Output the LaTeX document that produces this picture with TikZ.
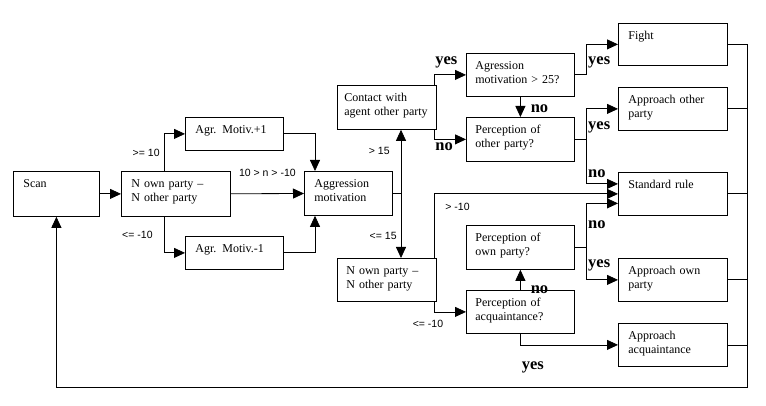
\documentclass[tikz,border=0pt]{standalone}
\usepackage{fontspec}
\setmainfont{Liberation Serif}
\newfontfamily\lblfont{Liberation Sans}
\usetikzlibrary{arrows.meta, positioning}

\begin{document}
\begin{tikzpicture}[x=1pt, y=-1pt, >={Triangle[length=11pt,width=10pt]}, line width=0.8pt,
  box/.style={draw, anchor=north west, inner xsep=10pt, inner ysep=0pt, text height=16pt,
    text depth=27pt, text width=89pt, align=left, font=\fontsize{12}{14}\selectfont},
  midbox/.style={box, inner xsep=9pt, text width=90pt},
  cond/.style={font=\lblfont\fontsize{10.5}{12}\selectfont, inner sep=1pt},
  answer/.style={font=\bfseries\fontsize{16.5}{18}\selectfont, inner sep=1pt}]
  \useasboundingbox (0,0) rectangle (766,406);
  \node[box, text width=66pt, text depth=29pt] (scan) at (13,171) {Scan};
  \node[box, text depth=29pt] (ownL) at (121,171) {N own party –\\N other party};
  \node[box, text width=78pt, text depth=17pt] (motup) at (185,117) {Agr. Motiv.+1};
  \node[box, text width=78pt, text depth=17pt] (motdown) at (185,236) {Agr. Motiv.-1};
  \node[box, text width=68pt, text depth=28pt] (aggr) at (304,171) {Aggression\\motivation};
  \node[box, inner xsep=7pt, text width=85pt, text depth=28pt] (contact) at (337,85) {Contact with\\\mbox{agent other party}};
  \node[box, inner xsep=9pt, text width=81pt] (ownR) at (337,258) {N own party –\\N other party};
  \node[midbox] (aggr25) at (466,53) {Agression\\motivation > 25?};
  \node[midbox, text depth=28pt] (percother) at (466,117) {Perception of\\other party?};
  \node[midbox, text depth=28pt] (percown) at (466,225) {Perception of\\own party?};
  \node[midbox] (percacq) at (466,290) {Perception of\\acquaintance?};
  \node[box, text depth=26pt] (fight) at (618,23) {Fight};
  \node[box] (appother) at (618,87) {Approach other\\party};
  \node[box] (standard) at (618,172) {Standard rule};
  \node[box] (appown) at (618,258) {Approach own\\party};
  \node[box] (appacq) at (618,323) {Approach\\acquaintance};

  \draw[->] (scan) -- (ownL);
  \draw[->] ([xshift=43pt]ownL.north west) |- node[cond, pos=0.25, left=3pt] {>= 10} (motup);
  \draw[->] ([xshift=43pt]ownL.south west) |- node[cond, pos=0.25, left=10pt] {<= -10} (motdown);
  \draw[->] (ownL) -- node[cond, above=16pt] {10 > n > -10} (aggr);
  \draw[->] (motup) -| ([xshift=11pt]aggr.north west);
  \draw[->] (motdown) -| ([xshift=11pt]aggr.south west);

  \coordinate (up) at ([xshift=64pt]contact.south west);
  \draw (aggr) -- (aggr -| up);
  \draw[->] (aggr -| up) -- node[cond, pos=0.66, left=10pt] {> 15} (up);
  \draw[->] (aggr -| up) -- node[cond, pos=0.66, left=3pt] {<= 15} (up |- ownR.north);

  \draw[->] ([xshift=97pt]contact.north west) |- node[answer, pos=0.5, anchor=south west, yshift=5pt] {yes} (aggr25);
  \draw[->] ([xshift=97pt]contact.south west) |- node[answer, pos=0.5, anchor=north west, yshift=-2pt] {no} (percother);
  \draw[->] (aggr25) -- node[answer, right=9pt, yshift=-2pt] {no} (percother);
  \draw[->] (aggr25.east) -- ++(12,0) |- node[answer, pos=0.2, right=0pt] {yes} (fight);
  \draw[->] (percother.east) -- ++(12,0) coordinate (j1) |- node[answer, pos=0.2, right=0pt] {yes} (appother);
  \draw[->] (j1) |- node[answer, pos=0.38, right=0pt] {no} ([yshift=10pt]standard.west);

  \draw[->] ([xshift=97pt]ownR.north west) |- node[cond, pos=0.5, anchor=north west, xshift=10pt, yshift=-8pt] {> -10} (standard);
  \draw[->] (percown.east) -- ++(12,0) coordinate (j2) |- node[answer, pos=0.26, right=0pt] {no} ([yshift=-9.5pt]standard.west);
  \draw[->] (j2) |- node[answer, pos=0.27, right=0pt] {yes} (appown);
  \draw[->] ([xshift=97pt]ownR.south west) |- node[cond, pos=0.5, below=7pt, xshift=-6pt] {<= -10} (percacq);
  \draw[->] (percacq) -- node[answer, pos=0, right=9pt] {no} (percown);
  \draw[->] (percacq) |- node[answer, pos=0.5, anchor=north west, yshift=-15pt] {yes} (appacq);

  \draw[->] (fight.east) -- ++(20,0) coordinate (rail) |- ([yshift=-21pt]appacq.south) -| (scan.south);
  \foreach \n in {appother, standard, appown, appacq}
    \draw (\n.east) -- (\n.east -| rail);
\end{tikzpicture}
\end{document}
